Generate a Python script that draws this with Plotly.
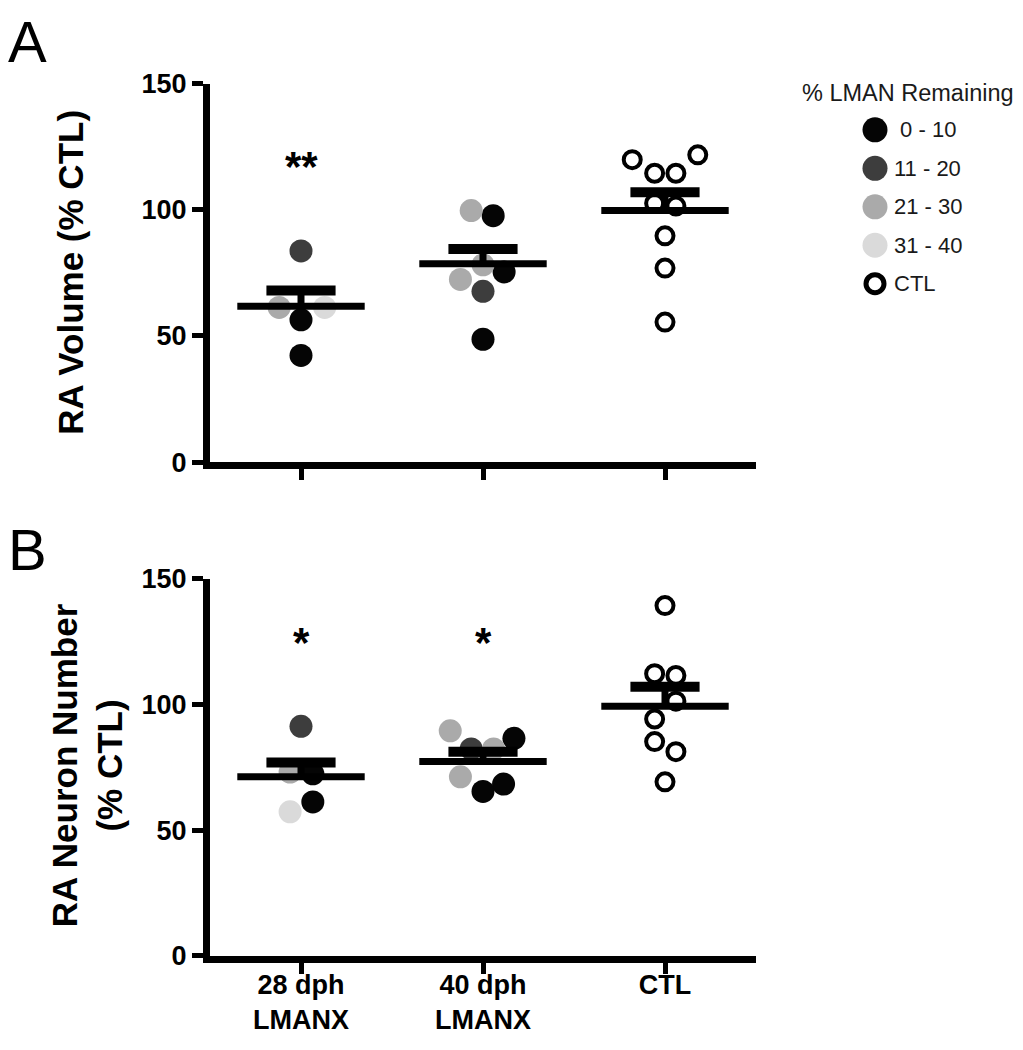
import plotly.graph_objects as go

W, H = 1023, 1050
OFF = 8  # page body margin compensation
FONT = "Liberation Sans, Arial, sans-serif"

# ---------------- data ----------------
groups = ["28 dph<br>LMANX", "40 dph<br>LMANX", "CTL"]
bins = ["0 - 10", "11 - 20", "21 - 30", "31 - 40", "CTL"]
bin_labels = ["\u00a00 - 10", "11 - 20", "21 - 30", "31 - 40", "CTL"]
bin_colors = {"0 - 10": "#050505", "11 - 20": "#3d3d3d", "21 - 30": "#aaaaaa",
              "31 - 40": "#dadada", "CTL": "#000000"}

# Panel A: RA Volume (% CTL)
vol_28_values = [83.7, 61.3, 61.3, 56.4, 42.3]
vol_28_bins = ["11 - 20", "21 - 30", "31 - 40", "0 - 10", "0 - 10"]
vol_28_jitter = [0, -0.12, 0.13, 0, 0]

vol_40_values = [99.7, 97.7, 78.2, 75.4, 72.4, 67.7, 48.7]
vol_40_bins = ["21 - 30", "0 - 10", "21 - 30", "0 - 10", "21 - 30", "11 - 20", "0 - 10"]
vol_40_jitter = [-0.065, 0.056, 0, 0.116, -0.124, 0, 0]

vol_ctl_values = [119.9, 121.8, 114.5, 114.5, 102.6, 101.5, 89.7, 76.9, 55.5]
vol_ctl_bins = ["CTL"] * 9
vol_ctl_jitter = [-0.18, 0.18, -0.057, 0.06, -0.057, 0.06, 0, 0, 0]

vol_mean = [61.8, 78.6, 99.7]
vol_sem = [6.2, 5.9, 7.3]
vol_stars = ["**", "", ""]

# Panel B: RA Neuron Number (% CTL)
neu_28_values = [91.3, 73.1, 72.4, 61.2, 57.3]
neu_28_bins = ["11 - 20", "21 - 30", "0 - 10", "0 - 10", "31 - 40"]
neu_28_jitter = [0, -0.06, 0.065, 0.065, -0.06]

neu_40_values = [89.5, 86.5, 82.3, 82.3, 71.2, 68.3, 65.4]
neu_40_bins = ["21 - 30", "0 - 10", "11 - 20", "21 - 30", "21 - 30", "0 - 10", "0 - 10"]
neu_40_jitter = [-0.18, 0.17, -0.065, 0.058, -0.124, 0.113, 0]

neu_ctl_values = [139.3, 112.2, 111.5, 101.3, 94.2, 85.2, 81.2, 69.2]
neu_ctl_bins = ["CTL"] * 8
neu_ctl_jitter = [0, -0.057, 0.06, 0.06, -0.057, -0.057, 0.06, 0]

neu_mean = [71.2, 77.3, 99.3]
neu_sem = [5.7, 3.9, 7.7]
neu_stars = ["*", "*", ""]

y_ticks = [0, 50, 100, 150]

# ---------------- helpers ----------------
def fx(p):
    return (p - OFF) / W

def fy(p):
    return 1 - (p - OFF) / H

fig = go.Figure()

panels = [
    dict(xa="x", ya="y",
         sets=[(vol_28_values, vol_28_bins, vol_28_jitter),
               (vol_40_values, vol_40_bins, vol_40_jitter),
               (vol_ctl_values, vol_ctl_bins, vol_ctl_jitter)],
         mean=vol_mean, sem=vol_sem, stars=vol_stars, star_y=117.0),
    dict(xa="x2", ya="y2",
         sets=[(neu_28_values, neu_28_bins, neu_28_jitter),
               (neu_40_values, neu_40_bins, neu_40_jitter),
               (neu_ctl_values, neu_ctl_bins, neu_ctl_jitter)],
         mean=neu_mean, sem=neu_sem, stars=neu_stars, star_y=124.8),
]

annotations = []
for pan in panels:
    # points
    for gi, (vals, bns, jit) in enumerate(pan["sets"]):
        for b in bins:
            xs = [gi + j for v, bb, j in zip(vals, bns, jit) if bb == b]
            ys = [v for v, bb, j in zip(vals, bns, jit) if bb == b]
            if not xs:
                continue
            if b == "CTL":
                marker = dict(symbol="circle-open", size=17, color="black",
                              line=dict(width=4, color="black"))
            else:
                marker = dict(symbol="circle", size=23, color=bin_colors[b],
                              line=dict(width=0))
            fig.add_trace(go.Scatter(x=xs, y=ys, mode="markers", marker=marker,
                                     xaxis=pan["xa"], yaxis=pan["ya"],
                                     showlegend=False, hoverinfo="skip"))
    # mean + SEM
    for gi, (m, s) in enumerate(zip(pan["mean"], pan["sem"])):
        fig.add_trace(go.Scatter(x=[gi - 0.35, gi + 0.35], y=[m, m], mode="lines",
                                 line=dict(color="black", width=7),
                                 xaxis=pan["xa"], yaxis=pan["ya"],
                                 showlegend=False, hoverinfo="skip"))
        fig.add_trace(go.Scatter(x=[gi, gi], y=[m, m + s], mode="lines",
                                 line=dict(color="black", width=7),
                                 xaxis=pan["xa"], yaxis=pan["ya"],
                                 showlegend=False, hoverinfo="skip"))
        fig.add_trace(go.Scatter(x=[gi - 0.19, gi + 0.19], y=[m + s, m + s], mode="lines",
                                 line=dict(color="black", width=10),
                                 xaxis=pan["xa"], yaxis=pan["ya"],
                                 showlegend=False, hoverinfo="skip"))
    for gi, st in enumerate(pan["stars"]):
        if st:
            annotations.append(dict(x=gi, y=pan["star_y"], xref=pan["xa"], yref=pan["ya"],
                                    text=st, showarrow=False, yanchor="middle",
                                    font=dict(family=FONT, size=42, color="black",
                                              weight="bold")))

# legend (drawn on a hidden full-page axis in page pixels)
leg_x = 875
leg_y0 = 118
leg_step = 39.6
for i, (b, lab) in enumerate(zip(bins, bin_labels)):
    if b == "CTL":
        marker = dict(symbol="circle-open", size=18, color="black",
                      line=dict(width=5, color="black"))
    else:
        marker = dict(symbol="circle", size=25, color=bin_colors[b], line=dict(width=0))
    fig.add_trace(go.Scatter(x=[leg_x], y=[leg_y0 + i * leg_step], mode="markers",
                             marker=marker, xaxis="x3", yaxis="y3",
                             showlegend=False, hoverinfo="skip"))
    annotations.append(dict(x=fx(leg_x + 17), y=fy(leg_y0 + i * leg_step),
                            xref="paper", yref="paper", xanchor="left", yanchor="middle",
                            text=lab, showarrow=False,
                            font=dict(family=FONT, size=22, color="#1a1a1a")))
annotations.append(dict(x=fx(800), y=fy(80), xref="paper", yref="paper",
                        xanchor="left", yanchor="middle", text="% LMAN Remaining",
                        showarrow=False, font=dict(family=FONT, size=23.5, color="#1a1a1a")))

# axis titles and panel letters
annotations.append(dict(x=fx(71), y=fy(265), xref="paper", yref="paper",
                        text="RA Volume (% CTL)", textangle=-90, showarrow=False,
                        xanchor="center", yanchor="middle",
                        font=dict(family=FONT, size=35, color="black", weight="bold")))
annotations.append(dict(x=fx(87), y=fy(772), xref="paper", yref="paper",
                        text="RA Neuron Number<br>(% CTL)", textangle=-90, showarrow=False,
                        xanchor="center", yanchor="middle",
                        font=dict(family=FONT, size=35, color="black", weight="bold")))
annotations.append(dict(x=fx(27.5), y=fy(27), xref="paper", yref="paper", text="A",
                        showarrow=False, xanchor="center", yanchor="middle",
                        font=dict(family=FONT, size=58, color="black")))
annotations.append(dict(x=fx(27.5), y=fy(550), xref="paper", yref="paper", text="B",
                        showarrow=False, xanchor="center", yanchor="middle",
                        font=dict(family=FONT, size=58, color="black")))

x_dom = [fx(210), fx(756)]
yA_dom = [fy(460), fy(70.5)]
yB_dom = [fy(968.3), fy(580)]

common_y = dict(range=[0, 150], tickvals=y_ticks, showline=True, linewidth=7,
                linecolor="black", ticks="outside", ticklen=11, tickwidth=5,
                tickcolor="black", showgrid=False, zeroline=False,
                tickfont=dict(family=FONT, size=27, color="black", weight="bold"))
common_x = dict(range=[-0.5, 2.5], tickvals=[0, 1, 2], ticktext=groups,
                showline=True, linewidth=7, linecolor="black", ticks="outside",
                ticklen=11, tickwidth=5, tickcolor="black", showgrid=False,
                zeroline=False, domain=x_dom, ticklabelstandoff=-12,
                tickfont=dict(family=FONT, size=27, color="black", weight="bold"))

fig.update_layout(
    width=W, height=H,
    margin=dict(l=0, r=0, t=0, b=0),
    paper_bgcolor="white", plot_bgcolor="rgba(0,0,0,0)",
    showlegend=False,
    xaxis=dict(common_x, anchor="y", showticklabels=False),
    yaxis=dict(common_y, anchor="x", domain=yA_dom),
    xaxis2=dict(common_x, anchor="y2", showticklabels=True),
    yaxis2=dict(common_y, anchor="x2", domain=yB_dom),
    xaxis3=dict(range=[OFF, W + OFF], domain=[0, 1], anchor="y3", visible=False,
                fixedrange=True),
    yaxis3=dict(range=[H + OFF, OFF], domain=[0, 1], anchor="x3", visible=False,
                fixedrange=True),
    annotations=annotations,
)

fig.write_html("out.html")
